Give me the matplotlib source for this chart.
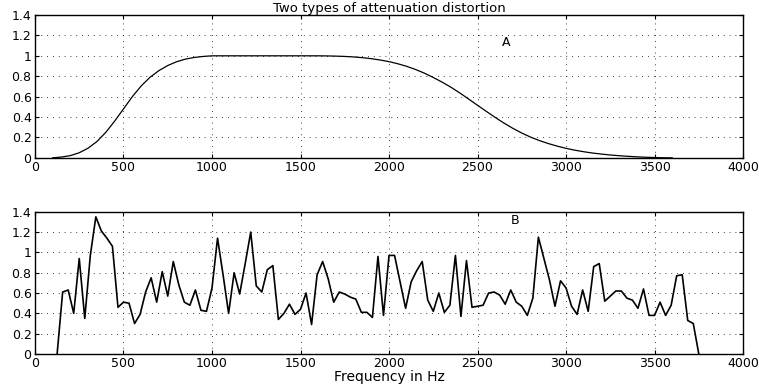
import numpy as np
import matplotlib
matplotlib.use('Agg')
import matplotlib.pyplot as plt

# curve A: smooth band-pass shape
freq_a = [100, 150, 200, 250, 300, 350, 400, 450, 500, 550, 600, 650, 700, 750,
          800, 850, 900, 950, 1000, 1100, 1200, 1300, 1400, 1500, 1600, 1650,
          1700, 1750, 1800, 1850, 1900, 1950, 2000, 2050, 2100, 2150, 2200,
          2250, 2300, 2350, 2400, 2450, 2500, 2550, 2600, 2650, 2700, 2750,
          2800, 2850, 2900, 2950, 3000, 3050, 3100, 3150, 3200, 3250, 3300,
          3350, 3400, 3450, 3500, 3550, 3600]
gain_a = [0.0, 0.008, 0.022, 0.05, 0.095, 0.16, 0.25, 0.36, 0.48, 0.6, 0.705,
          0.79, 0.855, 0.905, 0.942, 0.968, 0.984, 0.994, 1.0, 1.0, 1.0, 1.0,
          1.0, 1.0, 1.0, 0.999, 0.997, 0.994, 0.989, 0.982, 0.972, 0.959, 0.943,
          0.922, 0.897, 0.866, 0.83, 0.788, 0.742, 0.692, 0.636, 0.576, 0.515,
          0.455, 0.396, 0.34, 0.289, 0.243, 0.203, 0.169, 0.14, 0.115, 0.093,
          0.075, 0.06, 0.047, 0.037, 0.028, 0.021, 0.015, 0.01, 0.006, 0.003,
          0.001, 0.0]

# curve B: ragged response, one value every 31.25 Hz from 125 to 3750 Hz
freq_b = np.arange(4, 121) * 31.25
gain_b = [0.0, 0.61, 0.63, 0.40, 0.94, 0.35, 0.97, 1.35, 1.21, 1.14, 1.06, 0.46,
          0.51, 0.50, 0.30, 0.39, 0.61, 0.75, 0.51, 0.81, 0.57, 0.91, 0.68, 0.51,
          0.48, 0.63, 0.43, 0.42, 0.65, 1.14, 0.78, 0.40, 0.80, 0.59, 0.89, 1.20,
          0.67, 0.61, 0.83, 0.87, 0.34, 0.40, 0.49, 0.39, 0.44, 0.60, 0.29, 0.78,
          0.91, 0.74, 0.51, 0.61, 0.59, 0.56, 0.54, 0.41, 0.41, 0.36, 0.96, 0.38,
          0.97, 0.97, 0.71, 0.45, 0.71, 0.82, 0.91, 0.53, 0.42, 0.60, 0.41, 0.48,
          0.97, 0.37, 0.92, 0.46, 0.47, 0.48, 0.60, 0.61, 0.58, 0.49, 0.63, 0.51,
          0.47, 0.38, 0.55, 1.15, 0.94, 0.73, 0.47, 0.72, 0.65, 0.47, 0.39, 0.63,
          0.42, 0.86, 0.89, 0.52, 0.57, 0.62, 0.62, 0.55, 0.53, 0.45, 0.64, 0.38,
          0.38, 0.51, 0.38, 0.48, 0.77, 0.78, 0.33, 0.30, 0.0]

xticks = [0, 500, 1000, 1500, 2000, 2500, 3000, 3500, 4000]
yticks = [0, 0.2, 0.4, 0.6, 0.8, 1.0, 1.2, 1.4]
ylabels = ['0', '0.2', '0.4', '0.6', '0.8', '1', '1.2', '1.4']

plt.rcParams['font.family'] = 'DejaVu Sans'
plt.rcParams['font.size'] = 9

fig = plt.figure(figsize=(7.59, 3.85), dpi=100)
ax1 = fig.add_axes([0.0461, 0.590, 0.9329, 0.371])
ax2 = fig.add_axes([0.0461, 0.0805, 0.9329, 0.3695])


def style(ax):
    ax.set_xlim(0, 4000)
    ax.set_ylim(0, 1.4)
    ax.set_xticks(xticks)
    ax.set_xticklabels([str(t) for t in xticks])
    ax.set_yticks(yticks)
    ax.set_yticklabels(ylabels)
    ax.tick_params(direction='in', length=3, width=0.8, top=True, right=True,
                   labelsize=9, pad=2.5)
    ax.grid(True, color='black', linestyle=(0, (1, 6)), linewidth=0.6)
    for s in ax.spines.values():
        s.set_linewidth(1.0)


ax1.plot(freq_a, gain_a, color='black', linewidth=0.9)
style(ax1)
ax1.set_title('Two types of attenuation distortion', fontsize=9.5, pad=2)
ax1.text(2660, 1.13, 'A', ha='center', va='center', fontsize=9)

ax2.plot(freq_b, gain_b, color='black', linewidth=1.2)
style(ax2)
ax2.text(2710, 1.31, 'B', ha='center', va='center', fontsize=9)
ax2.set_xlabel('Frequency in Hz', fontsize=10, labelpad=0)

fig.savefig('out.png', dpi=100)
